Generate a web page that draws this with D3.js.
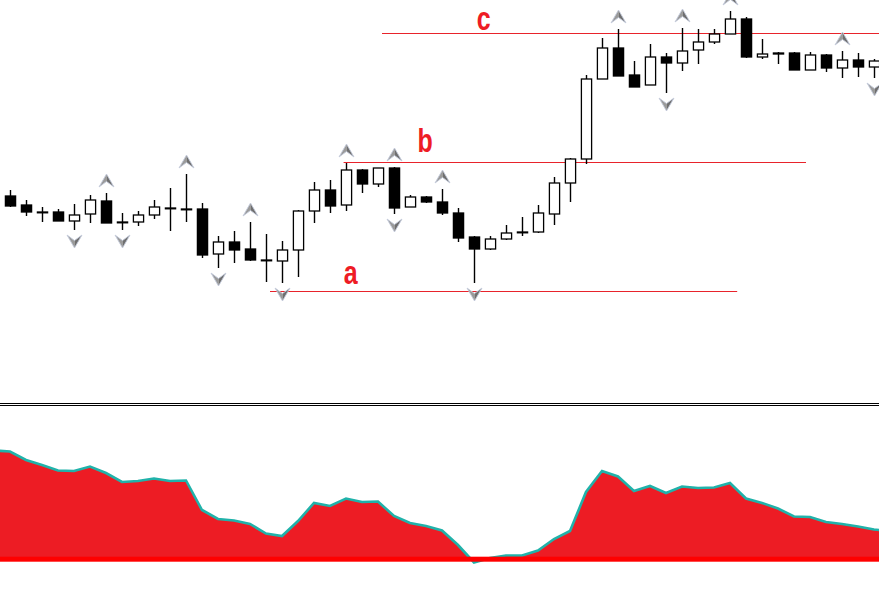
<!DOCTYPE html>
<html><head><meta charset="utf-8">
<script src="https://cdn.jsdelivr.net/npm/d3@7/dist/d3.min.js"></script>
<style>html,body{margin:0;padding:0;background:#fff;overflow:hidden}</style>
</head><body>
<svg id="chart" width="879" height="593"></svg>
<script>
// ---- data (prices in points) ----
const opens  = [404,395,388,388,379,386,399,378,378,385,392,391,391,346,358,351,340,339,350,389,410,395,430,416,432,393,403,398,387,363,351,361,368,368,386,417,441,521,552,525,515,543,537,550,558,566,581,543,547,547,530,545,532,540,533];
const highs  = [410,400,393,391,396,405,407,387,389,400,412,426,397,364,369,378,366,359,390,418,420,437,431,432,433,405,404,411,392,364,364,375,383,395,423,442,525,562,571,539,556,547,572,571,571,589,583,561,548,548,548,546,549,547,541];
const lows   = [393,384,378,379,370,377,377,370,374,381,369,378,342,332,337,339,318,317,323,377,387,389,407,413,386,393,397,385,358,317,350,360,364,367,375,398,436,521,524,513,515,507,529,536,556,566,542,541,536,530,530,528,522,523,522];
const closes = [394,388,388,379,385,400,377,378,385,393,392,391,345,358,350,340,340,350,389,410,394,430,416,432,392,403,398,387,362,351,361,367,368,387,417,441,521,552,524,513,543,537,549,558,566,581,543,546,546,530,545,532,540,533,539];
// fractal markers (bar indexes)
const upFractals   = [6,11,15,21,24,27,38,42,45,52];
const downFractals = [4,7,13,17,24,29,41,54];
// indicator values, bars -1 .. 55
const indicatorStart = -1;
const indicator = [108.5,107.5,99,94,88.5,88,92.5,86,77,78,80.5,78,78.5,49,40,38.5,35,25.5,23,38,56,53,60.5,57,57.5,43,36,33,28.5,14,-3.5,1,3.5,3.5,8.5,20,28,67,88,82.5,68,73,66,72.5,71,71.5,76,60.5,56,50.5,42.5,42,37,35,32.5,29.5,28];
// horizontal levels: price, from bar, to bar, label
const levelNames  = ["a","b","c"];
const levelPrices = [309.5,438.5,566.5];
const levelFrom   = [16.25,20.85,23.25];
const levelTo     = [45.45,49.75,56];
const labelBar    = [21.3,25.95,29.6];
const labelOffset = [7,10,3.5];

const svg = d3.select("#chart");
const x = d3.scaleLinear().domain([0,1]).range([10,26]);
const y = d3.scaleLinear().domain([0,600]).range([600,0]);
const yi = d3.scaleLinear().domain([0,100]).range([559,459]);

svg.append("rect").attr("width",879).attr("height",593).attr("fill","#fff");

const bars = opens.map((o,i)=>({i,o,h:highs[i],l:lows[i],c:closes[i]}));

// levels
const lv = svg.append("g");
levelNames.forEach((n,k)=>{
  lv.append("line").attr("x1",x(levelFrom[k])).attr("x2",x(levelTo[k]))
    .attr("y1",Math.round(y(levelPrices[k]))+0.5).attr("y2",Math.round(y(levelPrices[k]))+0.5)
    .attr("stroke","#e8232b").attr("stroke-width",1);
  const tx = x(labelBar[k]), ty = y(levelPrices[k]) - labelOffset[k];
  lv.append("text").attr("transform",`translate(${tx},${ty}) scale(1,1.33)`)
    .attr("text-anchor","middle").attr("font-family","Liberation Sans, Arial, sans-serif")
    .attr("font-weight","bold").attr("font-size",25).attr("fill","#ee1c25").text(n);
});

// candles
const cg = svg.append("g");
cg.selectAll("line.wick").data(bars).join("line")
  .attr("x1",d=>x(d.i)+0.5).attr("x2",d=>x(d.i)+0.5)
  .attr("y1",d=>y(d.h)).attr("y2",d=>y(d.l))
  .attr("stroke","#000").attr("stroke-width",1.4);
cg.selectAll("rect.body").data(bars).join("rect")
  .attr("x",d=>x(d.i)-4.6).attr("width",10.2)
  .attr("y",d=>y(Math.max(d.o,d.c)))
  .attr("height",d=>Math.max(0.8,Math.abs(y(d.o)-y(d.c))))
  .attr("fill",d=>d.c>d.o?"#fff":"#000")
  .attr("stroke","#000").attr("stroke-width",1.3);

// fractal arrows
function arrow(g, cx, tipY, dir){
  // dir = -1 up arrow (tip on top), +1 down arrow (tip at bottom)
  const hgt = 13, hw = 7.5, notch = 5.5;
  const baseY = tipY - dir*hgt;
  const left = [[cx,tipY],[cx-hw,baseY],[cx,baseY+dir*notch]];
  const right= [[cx,tipY],[cx+hw,baseY],[cx,baseY+dir*notch]];
  g.append("path").attr("d","M"+left.join("L")+"Z").attr("fill","#9a9a9a");
  g.append("path").attr("d","M"+right.join("L")+"Z").attr("fill","#6f6f6f");
  g.append("path").attr("d","M"+[[cx,tipY],[cx-hw,baseY],[cx,baseY+dir*notch],[cx+hw,baseY]].join("L")+"Z")
    .attr("fill","none").attr("stroke","#c4cbdb").attr("stroke-width",0.9);
}
const ag = svg.append("g");
upFractals.forEach(i=>arrow(ag, x(i)+0.5, y(highs[i])-19, -1));
downFractals.forEach(i=>arrow(ag, x(i)+0.5, y(lows[i])+18, 1));

// separator
svg.append("line").attr("x1",0).attr("x2",879).attr("y1",403.5).attr("y2",403.5).attr("stroke","#000");
svg.append("line").attr("x1",0).attr("x2",879).attr("y1",405.5).attr("y2",405.5).attr("stroke","#000");

// indicator
const ind = indicator.map((v,k)=>({i:k+indicatorStart,v}));
svg.append("path").datum(ind)
  .attr("d",d3.area().x(d=>x(d.i)).y0(yi(0)).y1(d=>yi(d.v)))
  .attr("fill","#ed1c24");
svg.append("path").datum(ind)
  .attr("d",d3.line().x(d=>x(d.i)).y(d=>yi(d.v)))
  .attr("fill","none").attr("stroke","#20b2aa").attr("stroke-width",2.6);
svg.append("rect").attr("x",0).attr("width",879).attr("y",yi(0)-2.3).attr("height",5).attr("fill","#ff0000");
</script>
</body></html>
